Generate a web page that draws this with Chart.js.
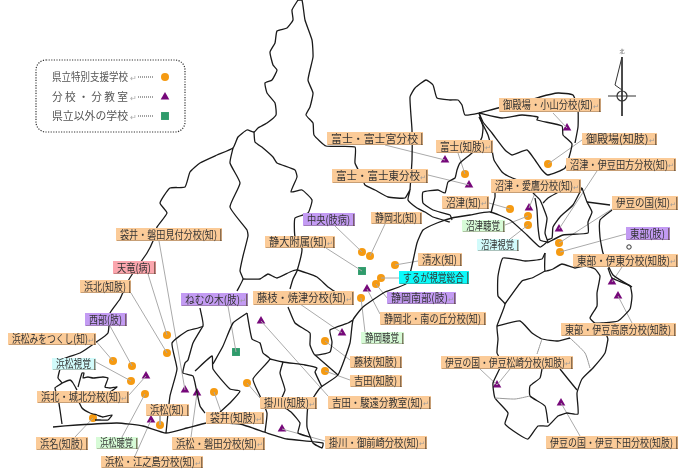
<!DOCTYPE html>
<html><head><meta charset="utf-8">
<style>html,body{margin:0;padding:0;background:#fff}canvas{display:block}</style>
<script src="https://cdn.jsdelivr.net/npm/chart.js@4"></script></head>
<body><canvas id="c" width="690" height="473"></canvas>
<script>
// School markers (map units: x 0-690, y 0-473)
const prefecturalSchools=[[167,335],[167,353],[113,361],[132,366],[131,381],[145,394],[93,418],[160,425],[214,392],[247,383],[325,341],[325,371],[362,252],[370,256],[395,265],[381,278],[376,284],[361,298],[465,174],[548,164],[510,209],[528,216],[528,225],[559,243],[560,252]];
const branchSchools=[[146,376],[185,390],[197,393],[151,420],[282,429],[261,321],[342,333],[367,289],[445,160],[469,185],[567,128],[529,208],[559,229],[612,282],[618,296],[497,385],[561,403]];
const otherSchools=[[236,352],[362,271]];
const legendNames=["県立特別支援学校","分 校 ・ 分 教 室","県立以外の学校"];
const legendCircle=[[165,77]],legendTriangle=[[165,97]],legendSquare=[[165,116]];
// Map outlines
const borders=[
[[298,0],[292,10],[293,20],[287,28],[277,31],[275,43],[270,52],[273,65],[277,70],[272,80],[265,83],[267,93],[275,103],[276,115],[267,123],[258,128],[254,132],[247,130],[238,137],[233,148],[217,155],[200,163],[190,172],[185,187],[170,188],[160,203],[167,213],[157,227],[153,241],[147,253],[133,273],[127,283],[120,299],[110,313],[108,333],[95,343],[80,353],[63,359],[60,369],[58,378],[62,383],[55,388],[58,398],[60,410],[62,424]],
[[298,0],[302,0],[305,20],[312,40],[313,57],[308,80],[313,93],[310,107],[306,115],[313,123],[314,135],[326,146],[355,147],[355,163],[362,177],[365,185],[375,190],[388,197],[405,198],[410,190],[408,200],[417,208],[425,212],[433,217],[450,222]],
[[410,190],[412,160],[412,130],[410,97],[415,88],[426,80],[433,85],[437,98],[450,100],[458,100],[462,105],[465,115],[479,113],[498,108],[515,105],[540,97],[558,93],[573,95],[578,110],[578,127],[575,143]],
[[479,113],[502,118],[522,115],[538,117],[537,120],[562,126],[563,135],[572,144],[565,168],[548,175],[542,170],[535,160],[527,150],[512,155],[505,150],[492,133],[483,122],[479,113]],
[[479,113],[483,127],[482,137],[478,145],[472,153],[460,163],[457,170],[455,178],[448,182],[445,193],[438,190],[423,192],[423,203],[433,210],[450,215],[452,220]],
[[479,117],[488,135],[492,150],[494,160],[502,172],[508,176],[517,180]],
[[495,193],[495,197],[493,205],[491,213]],
[[533,193],[540,200],[547,218],[545,233],[548,242]],
[[582,188],[573,190],[563,190],[548,198],[543,203]],
[[582,188],[587,202],[592,212],[588,222],[588,233],[563,235],[547,243]],
[[587,202],[610,205]],
[[612,210],[600,220],[600,237],[603,253],[613,275],[632,287]],
[[582,188],[573,205],[560,217],[553,227],[552,238],[547,240]],
[[535,198],[537,210],[538,227],[540,240],[547,242]],
// Suruga bay and the Pacific coast
[[547,242],[540,247],[527,235],[510,220],[490,212],[470,215],[452,218],[437,223],[423,230],[417,243],[407,283],[385,292],[363,307],[353,320],[350,343],[338,375],[320,388],[308,407],[307,427],[313,443],[322,448],[323,443],[287,439],[267,433],[240,424],[207,423],[187,428],[166,433],[143,426],[117,423],[77,425],[53,427]],
// Inland divisions
[[233,148],[230,163],[240,183],[230,207],[247,230],[248,236],[243,256],[240,271],[243,279],[237,291]],
[[200,308],[203,326],[187,331],[172,343],[177,369],[170,396],[166,433]],
[[203,326],[193,343],[188,360],[185,363],[183,373],[193,376],[195,383],[200,406],[205,413]],
[[195,371],[212,356],[213,369],[230,389],[240,391],[230,403],[220,412]],
[[247,313],[233,323],[223,346],[213,364]],
[[247,313],[252,339],[260,343],[263,353],[270,359],[253,379],[260,396],[267,413],[265,432]],
[[270,359],[283,362],[305,365],[317,368],[315,372],[322,387]],
[[283,362],[280,373],[285,390],[280,403],[292,413],[300,423],[298,433],[310,437]],
[[288,307],[295,323],[310,333],[310,345],[315,355],[330,352],[332,342],[330,330],[348,323],[353,320]],
[[315,355],[338,375]],
[[254,132],[255,142],[263,148],[273,157],[277,163],[295,170],[297,177],[291,192],[302,190],[312,200],[308,213],[295,218],[295,237],[302,249],[297,271],[293,279],[290,289]],
[[243,279],[260,279],[268,274],[277,278],[290,272],[297,270],[317,277],[328,287],[337,293]],
// Hamana lake
[[62,383],[70,380],[73,383],[77,390]],
[[78,387],[82,373],[84,373],[83,378],[88,377],[93,378],[103,377],[108,378],[105,387],[110,388],[117,387],[110,392]],
[[77,398],[82,408],[90,413],[97,415],[103,417],[112,415],[108,420],[100,420],[95,420]],
// Izu peninsula
[[545,253],[545,271],[553,269],[562,264],[575,268],[585,266],[595,269],[600,276],[597,293],[597,306],[590,318],[595,323],[602,323],[618,321],[630,309],[632,296],[630,286],[612,278],[608,268]],
[[608,339],[605,353],[593,368],[582,379],[577,393],[578,414],[567,413],[558,416],[548,426],[538,426],[528,439],[518,434],[505,424],[508,413],[495,398],[493,383],[502,363],[497,353],[498,339],[497,326],[505,304],[498,296],[498,276],[503,258],[525,261],[542,259],[545,253]],
[[602,323],[608,339]],
[[545,271],[532,278],[522,281],[505,304]],
[[497,326],[520,321],[532,333],[542,339],[558,341],[570,338]],
[[542,369],[540,378],[530,386],[530,396],[545,406],[548,423]],
[[560,369],[568,379],[577,390]]
];
const faintBorders=[[[542,339],[537,354]],[[570,338],[585,353],[590,368]],[[495,398],[515,399],[530,396]]];
// Label texts and boxes [left, top, right, bottom], same order
const labelTexts=["袋井・磐田見付分校(知)","天竜(病)","浜北(知肢)","西部(肢)","浜松みをつくし(知)","浜松視覚","浜北・城北分校(知)","浜名(知肢)","浜松聴覚","浜松・江之島分校(知)","浜松(知)","浜松・磐田分校(知)","袋井(知肢)","掛川(知肢)","吉田・駿遠分教室(知)","掛川・御前崎分校(知)","ねむの木(肢)","藤枝・焼津分校(知)","静大附属(知)","中央(肢病)","静岡北(知)","清水(知)","するが視覚総合","静岡南部(肢)","静岡北・南の丘分校(知)","静岡聴覚","藤枝(知肢)","吉田(知肢)","伊豆の国・伊豆松崎分校(知肢)","東部・伊豆高原分校(知肢)","伊豆の国・伊豆下田分校(知肢)","東部・伊東分校(知肢)","沼津視覚","東部(肢)","伊豆の国(知)","沼津聴覚","沼津(知)","沼津・愛鷹分校(知)","沼津・伊豆田方分校(知)","御殿場(知肢)","御殿場・小山分校(知)","富士(知肢)","富士・富士宮分校","富士・富士東分校"];
const labelBoxes=[[116,228,222,241],[113,261,156,274],[80,280,131,293],[85,313,127,326],[8,333,96,345],[52,358,96,370],[37,391,129,403],[36,437,88,450],[96,437,138,449],[101,456,203,468],[146,404,189,416],[172,437,265,450],[206,412,264,424],[260,397,317,409],[328,396,431,409],[325,436,427,449],[181,293,248,306],[253,291,354,305],[265,236,335,248],[303,213,355,226],[371,212,422,224],[418,253,462,266],[399,271,469,284],[387,292,456,304],[380,312,486,325],[361,332,404,344],[350,356,402,368],[350,375,402,387],[441,356,573,369],[561,323,676,336],[546,436,678,449],[573,254,678,267],[477,239,519,251],[626,227,670,240],[612,196,678,210],[462,220,505,232],[442,196,489,209],[491,179,581,193],[566,158,676,171],[582,133,657,145],[499,98,601,112],[436,140,493,153],[327,132,423,145],[332,169,428,183]];
const labelKinds=["p","r","p","v","p","c","p","p","g","p","p","p","p","p","p","p","v","p","p","v","p","p","C","v","p","g","p","p","p","p","p","p","c","v","p","g","p","p","p","p","p","p","p","p"];
const labelHasMark=[0,0,0,0,1,0,1,0,0,1,0,1,1,1,1,1,1,1,1,0,0,0,0,1,0,0,0,0,1,0,0,1,0,0,1,0,1,1,1,1,1,1,0,1];
// Leader lines: from label edge to mark
const leaders=[[[159,241],[185,390]],[[148,274],[167,335]],[[131,293],[167,353]],[[110,326],[132,366]],[[95,340],[113,361]],[[96,362],[131,381]],[[129,395],[146,376]],[[122,437],[145,394]],[[75,437],[93,418]],[[135,456],[151,420]],[[160,416],[160,425]],[[191,437],[197,393]],[[221,412],[214,392]],[[260,398],[247,383]],[[228,306],[236,352]],[[326,248],[362,271]],[[335,226],[362,252]],[[385,224],[370,256]],[[418,261],[395,265]],[[399,278],[381,278]],[[387,298],[376,284]],[[380,314],[367,289]],[[365,332],[361,298]],[[350,360],[325,341]],[[350,380],[325,371]],[[328,396],[261,321]],[[325,441],[282,429]],[[300,304],[342,333]],[[385,145],[445,160]],[[428,175],[469,185]],[[458,153],[465,174]],[[489,203],[510,209]],[[505,225],[528,216]],[[510,239],[528,225]],[[535,193],[529,208]],[[597,171],[559,229]],[[582,140],[548,164]],[[553,113],[567,128]],[[612,209],[559,243]],[[626,234],[560,252]],[[622,267],[612,282]],[[632,323],[618,296]],[[510,369],[497,385]],[[480,369],[497,385]],[[580,436],[561,403]]];
const compassLines=[[[622,57],[615,85],[622,90]],[[622,57],[622,116]],[[608,96],[636,96]]];
const compassHub=[[622,96]];
const island=[[629,247]];

const toPts=a=>a.map(p=>({x:p[0],y:p[1]}));
const lineDs=(a,c,w,t)=>({data:toPts(a),showLine:true,borderColor:c,borderWidth:w,pointRadius:0,tension:t,fill:false});
const markDs=(a,st,r,c)=>({data:toPts(a),showLine:false,pointStyle:st,pointRadius:r,backgroundColor:c,borderColor:c,borderWidth:0});
const hubDs=(a,r,w)=>({data:toPts(a),showLine:false,pointStyle:'circle',pointRadius:r,backgroundColor:'#fff',borderColor:'#333',borderWidth:w});
const ORANGE='#F59A12',PURPLE='#76087A',GREEN='#2F9B6B';
const fills={p:'#FBCB98',v:'#C39BF3',r:'#FBA6AE',c:'#D2FBFB',C:'#0BFAFA',g:'#D7FBD7'};
const FONT='"Noto Sans CJK JP","Noto Sans",sans-serif';

const annot={id:'annot',afterDatasetsDraw(ch){
 const g=ch.ctx,X=ch.scales.x,Y=ch.scales.y;
 g.save();
 const lx=X.getPixelForValue(36),ly=Y.getPixelForValue(60),lw=149,lh=72;
 g.setLineDash([1.2,1.4]);g.lineWidth=1.2;g.strokeStyle='#333';
 g.beginPath();g.roundRect(lx,ly,lw,lh,10);g.stroke();g.setLineDash([]);
 g.textBaseline='middle';g.textAlign='left';
 legendNames.forEach((t,i)=>{const y=Y.getPixelForValue([77,97,116][i]);
  g.font='11px '+FONT;g.fillStyle='#555';g.fillText(t,X.getPixelForValue(52),y,76);
  g.fillStyle='#aaa';g.font='8px '+FONT;g.fillText('↵',X.getPixelForValue(130),y+1);
  g.strokeStyle='#444';g.setLineDash([1,1]);g.beginPath();g.moveTo(X.getPixelForValue(138),y);g.lineTo(X.getPixelForValue(153),y);g.stroke();g.setLineDash([]);});
 g.fillStyle='#555';g.font='5px '+FONT;g.textAlign='center';g.fillText('北',X.getPixelForValue(622),Y.getPixelForValue(51));
 labelTexts.forEach((t,i)=>{const b=labelBoxes[i];
  const x0=X.getPixelForValue(b[0]),x1=X.getPixelForValue(b[2]),y0=Y.getPixelForValue(b[1]),y1=Y.getPixelForValue(b[3]);
  const w=x1-x0,h=y1-y0;
  g.fillStyle=fills[labelKinds[i]];g.fillRect(x0,y0,w,h);
  g.fillStyle='rgba(80,60,40,.65)';g.fillRect(x1-2,y0+1,1,h-1);
  g.fillStyle='rgba(80,60,40,.3)';g.fillRect(x1-1,y0+1,1,h-1);g.fillRect(x0+1,y1-1,w-1,1);
  g.font='11px '+FONT;g.fillStyle='#333';g.textAlign='left';g.textBaseline='middle';
  const room=w-(labelHasMark[i]?12:9);
  const tw=Math.min(g.measureText(t).width,room);
  const tx=x0+(labelHasMark[i]?4:(w-1-tw)/2);
  g.fillText(t,tx,(y0+y1)/2,room);
  if(labelHasMark[i]){g.font='7px '+FONT;g.fillStyle='#999';g.fillText('↵',x1-8,(y0+y1)/2+1);}
 });
 g.restore();
}};

new Chart(document.getElementById('c'),{type:'scatter',
 data:{datasets:[
  ...faintBorders.map(a=>lineDs(a,'#999',1,0.2)),
  ...borders.map(a=>lineDs(a,'#1a1a1a',1.3,0.15)),
  ...leaders.map(a=>lineDs(a,'#aaa',1,0)),
  ...compassLines.map(a=>lineDs(a,'#333',1,0)),
  hubDs(compassHub,5,1.2),hubDs(compassHub,3,1),hubDs(island,2.2,1),
  markDs(prefecturalSchools,'circle',4,ORANGE),
  markDs(branchSchools,'triangle',5,PURPLE),
  markDs(otherSchools,'rect',5.6,GREEN),
  markDs(legendCircle,'circle',4,ORANGE),
  markDs(legendTriangle,'triangle',5,PURPLE),
  markDs(legendSquare,'rect',5.6,GREEN)
 ]},
 options:{responsive:false,animation:false,devicePixelRatio:1,
  layout:{padding:0,autoPadding:false},
  plugins:{legend:{display:false},tooltip:{enabled:false},title:{display:false}},
  scales:{x:{type:'linear',min:0,max:690,display:false},y:{type:'linear',min:0,max:473,reverse:true,display:false}}
 },plugins:[annot]});
</script></body></html>
